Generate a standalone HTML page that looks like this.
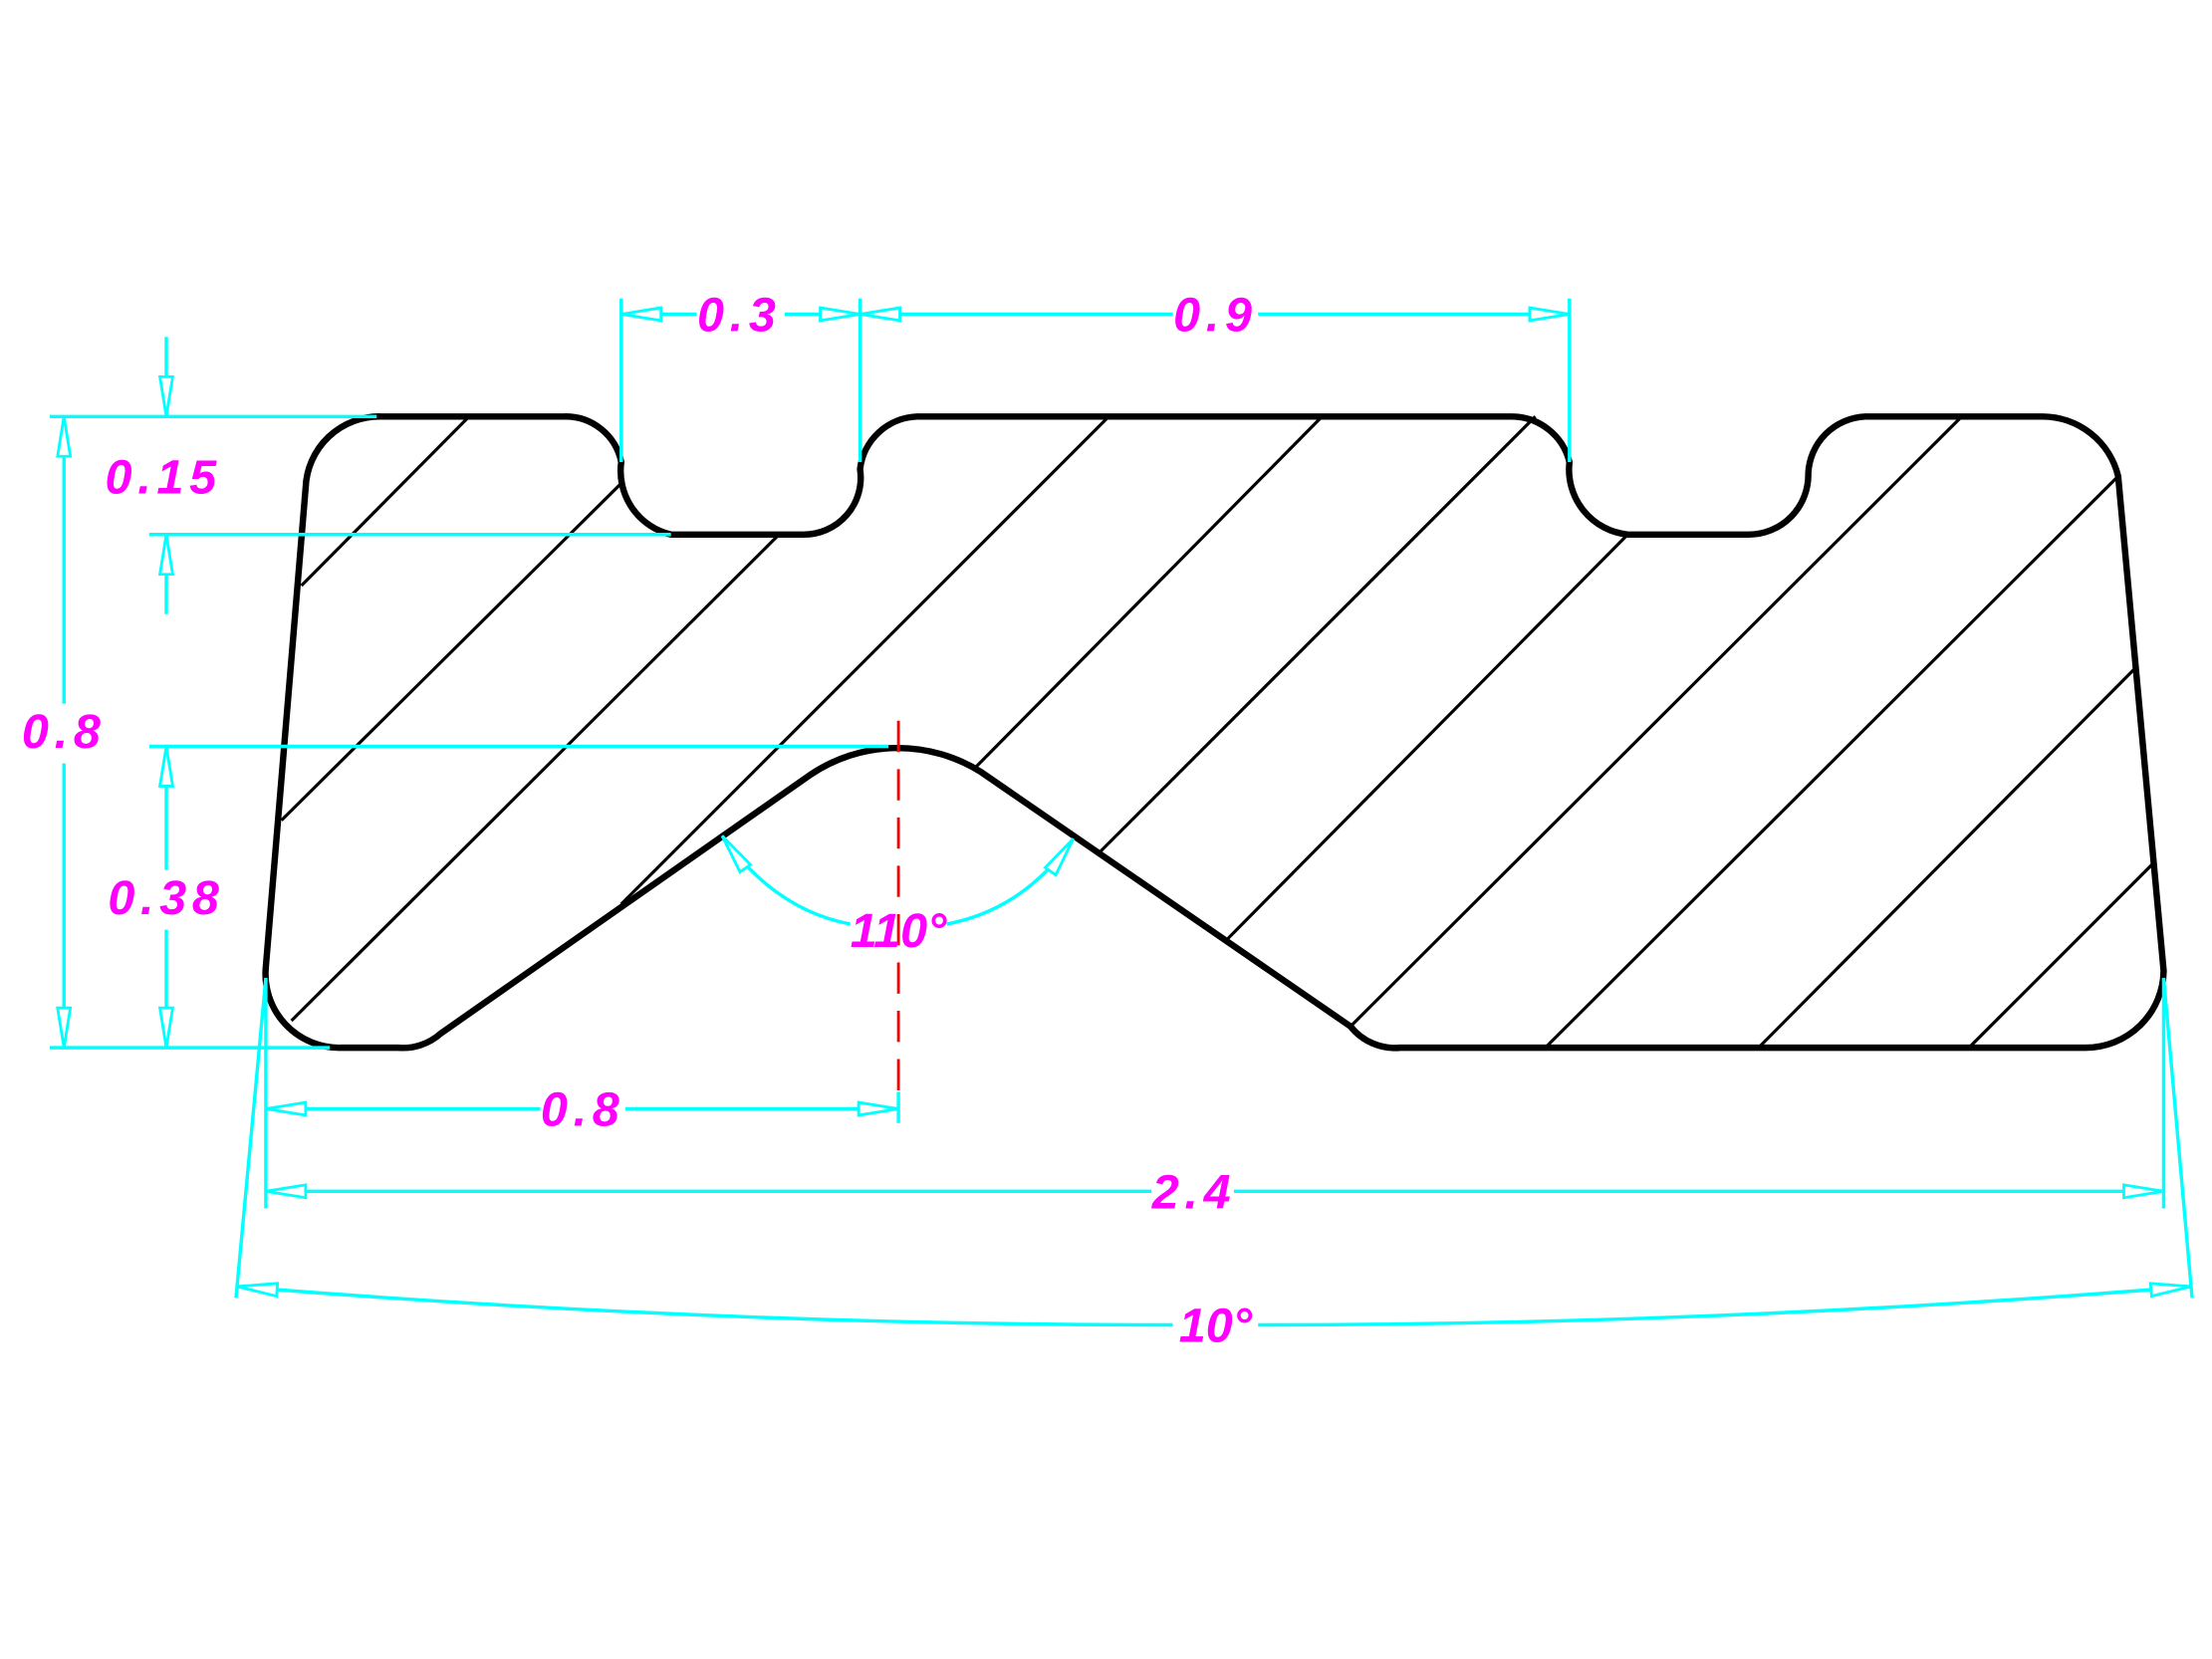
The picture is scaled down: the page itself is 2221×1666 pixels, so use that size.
<!DOCTYPE html>
<html><head><meta charset="utf-8"><style>
html,body{margin:0;padding:0;background:#fff;}
svg{display:block;}
text{font-family:"Liberation Sans",sans-serif;font-style:italic;font-weight:bold;font-size:34px;fill:#ff00ff;letter-spacing:4px;}
</style></head><body>
<svg width="2221" height="1666" viewBox="0 0 1556 1167" preserveAspectRatio="none" xmlns="http://www.w3.org/2000/svg">
<defs>
<marker id="a" viewBox="-1 -1 30 12" refX="28" refY="5" markerWidth="30" markerHeight="12" markerUnits="userSpaceOnUse" orient="auto-start-reverse">
<path d="M28,5 L0,0.5 L0,9.5 Z" fill="#fff" stroke="#00ffff" stroke-width="2"/>
</marker>
</defs>
<g stroke="#000" stroke-width="2.2">
<line x1="212" y1="412" x2="330" y2="293"/>
<line x1="198" y1="577" x2="437" y2="340"/>
<line x1="205" y1="718" x2="548" y2="376"/>
<line x1="437" y1="636" x2="780" y2="293"/>
<line x1="686" y1="540" x2="930" y2="293"/>
<line x1="773" y1="600" x2="1080" y2="293"/>
<line x1="862" y1="662" x2="1145" y2="376"/>
<line x1="950" y1="722" x2="1380" y2="293"/>
<line x1="1087" y1="737" x2="1490" y2="335"/>
<line x1="1237" y1="737" x2="1502" y2="470"/>
<line x1="1385" y1="737" x2="1515" y2="607"/>
</g>
<path d="M187,680 L215,343 A52,52 0 0 1 268,293 L397,293 A40,40 0 0 1 437,325 A46,46 0 0 0 472,376 L565,376 A40,40 0 0 0 605,330 A42,42 0 0 1 645,293 L1063,293 A42,42 0 0 1 1104,325 A46,46 0 0 0 1145,376 L1230,376 A42,42 0 0 0 1272,333 A42,42 0 0 1 1312,293 L1437,293 A55,55 0 0 1 1490,335 L1522,683 A55,55 0 0 1 1467,737 L985,737 A40,40 0 0 1 950,722 L690,543 A110,110 0 0 0 570,545 L310,727 A40,40 0 0 1 280,737 L240,737 A52,52 0 0 1 187,680 Z" fill="none" stroke="#000" stroke-width="4.5" stroke-linejoin="round"/>
<line x1="632" y1="507" x2="632" y2="768" stroke="#ff0000" stroke-width="2" stroke-dasharray="22,12"/>
<g stroke="#00ffff" stroke-width="2.4" fill="none">
<line x1="437" y1="210" x2="437" y2="325"/><line x1="605" y1="210" x2="605" y2="325"/><line x1="1104" y1="210" x2="1104" y2="325"/>
<line x1="490" y1="221" x2="437" y2="221" marker-end="url(#a)"/>
<line x1="552" y1="221" x2="605" y2="221" marker-end="url(#a)"/>
<line x1="825" y1="221" x2="605" y2="221" marker-end="url(#a)"/>
<line x1="885" y1="221" x2="1104" y2="221" marker-end="url(#a)"/>
<line x1="35" y1="293" x2="265" y2="293"/><line x1="105" y1="376" x2="472" y2="376"/>
<line x1="117" y1="237" x2="117" y2="293" marker-end="url(#a)"/>
<line x1="117" y1="432" x2="117" y2="376" marker-end="url(#a)"/>
<line x1="45" y1="495" x2="45" y2="293" marker-end="url(#a)"/>
<line x1="45" y1="537" x2="45" y2="737" marker-end="url(#a)"/>
<line x1="35" y1="737" x2="232" y2="737"/>
<line x1="105" y1="525" x2="625" y2="525"/>
<line x1="117" y1="612" x2="117" y2="525" marker-end="url(#a)"/>
<line x1="117" y1="654" x2="117" y2="737" marker-end="url(#a)"/>
<line x1="187" y1="688" x2="187" y2="850"/><line x1="632" y1="768" x2="632" y2="790"/><line x1="1522" y1="688" x2="1522" y2="850"/>
<line x1="380" y1="780" x2="187" y2="780" marker-end="url(#a)"/>
<line x1="440" y1="780" x2="632" y2="780" marker-end="url(#a)"/>
<line x1="810" y1="838" x2="187" y2="838" marker-end="url(#a)"/>
<line x1="868" y1="838" x2="1522" y2="838" marker-end="url(#a)"/>
<line x1="187" y1="688" x2="166" y2="913"/><line x1="1522" y1="688" x2="1542" y2="913"/>
<path d="M825,932 Q500,932 167,905" marker-end="url(#a)"/>
<path d="M885,932 Q1210,932 1541,905" marker-end="url(#a)"/>
<path d="M598,650 Q545,640 508,588" marker-end="url(#a)"/>
<path d="M666,650 Q720,640 755,590" marker-end="url(#a)"/>
</g>
<text x="520" y="233" text-anchor="middle">0.3</text>
<text x="855" y="233" text-anchor="middle">0.9</text>
<text x="115" y="347" text-anchor="middle">0.15</text>
<text x="45" y="526" text-anchor="middle">0.8</text>
<text x="117" y="643" text-anchor="middle">0.38</text>
<text x="632" y="666" text-anchor="middle" style="letter-spacing:0">110°</text>
<text x="410" y="792" text-anchor="middle">0.8</text>
<text x="840" y="850" text-anchor="middle">2.4</text>
<text x="855" y="944" text-anchor="middle" style="letter-spacing:0">10°</text>
</svg>
</body></html>
